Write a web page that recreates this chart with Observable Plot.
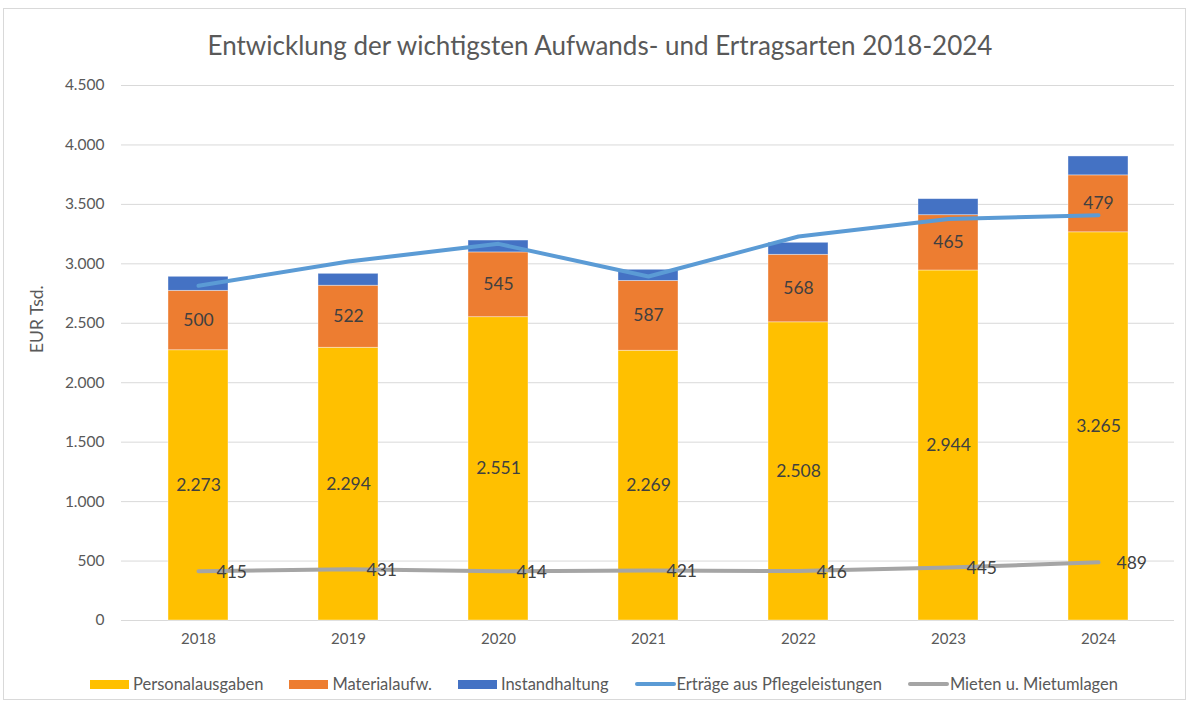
<!DOCTYPE html>
<html>
<head>
<meta charset="utf-8">
<script src="https://cdn.jsdelivr.net/npm/d3@7"></script>
<script src="https://cdn.jsdelivr.net/npm/@observablehq/plot@0.6"></script>
<style>
  html, body { margin: 0; padding: 0; background: #fff; }
  #wrap { position: relative; width: 1189px; height: 705px; font-family: Lato, "Open Sans", sans-serif; overflow: hidden; }
  #frame { position: absolute; left: 3px; top: 8px; width: 1183px; height: 692px; border: 1px solid #d9d9d9; box-sizing: border-box; }
  #title { position: absolute; left: 0; width: 1200px; top: 29px; text-align: center; font-size: 26px; line-height: 32px; color: #595959; }
  #chart { position: absolute; left: 0; top: 70px; }
  #legend { position: absolute; left: 0; width: 1208px; top: 675px; display: flex; justify-content: center; align-items: center; font-size: 16.5px; color: #595959; line-height: 18px; }
  .item { display: flex; align-items: center; margin: 0 13px; }
  .sw { width: 39px; height: 9px; margin-right: 4px; }
  .ln { width: 41px; height: 4px; border-radius: 2px; margin-right: 1px; }
</style>
</head>
<body>
<div id="wrap">
  <div id="frame"></div>
  <div id="title">Entwicklung der wichtigsten Aufwands- und Ertragsarten 2018-2024</div>
  <div id="chart"></div>
  <div id="legend"></div>
</div>
<script>
const years = ["2018", "2019", "2020", "2021", "2022", "2023", "2024"];
const personalausgaben = [2273, 2294, 2551, 2269, 2508, 2944, 3265];
const materialaufw = [500, 522, 545, 587, 568, 465, 479];
const instandhaltung = [118, 100, 100, 94, 101, 135, 159];
const ertraege = [2815, 3020, 3168, 2893, 3230, 3378, 3409];
const mieten = [415, 431, 414, 421, 416, 445, 489];
const yTicks = [0, 500, 1000, 1500, 2000, 2500, 3000, 3500, 4000, 4500];

const barSeries = ["Personalausgaben", "Materialaufw.", "Instandhaltung"];
const barColors = ["#FFC000", "#ED7D31", "#4472C4"];
const lineSeries = ["Erträge aus Pflegeleistungen", "Mieten u. Mietumlagen"];
const lineColors = ["#5B9BD5", "#A5A5A5"];

const fmt = d3.formatLocale({decimal: ",", thousands: ".", grouping: [3], currency: ["", " €"]}).format(",d");

const barValues = [personalausgaben, materialaufw, instandhaltung];
const barData = [];
years.forEach((year, i) => {
  barSeries.forEach((s, j) => barData.push({year, series: s, value: barValues[j][i]}));
});
const ertraegeData = years.map((year, i) => ({year, value: ertraege[i]}));
const mietenData = years.map((year, i) => ({year, value: mieten[i]}));

const chart = Plot.plot({
  width: 1189,
  height: 590,
  marginTop: 15,
  marginBottom: 40,
  marginLeft: 121,
  marginRight: 15,
  style: {fontFamily: "Lato, 'Open Sans', sans-serif", fontSize: "15px", color: "#595959", background: "transparent"},
  x: {domain: years, paddingInner: 0.6, paddingOuter: 0.3, label: null},
  y: {domain: [0, 4500], label: null},
  color: {domain: barSeries, range: barColors},
  marks: [
    Plot.gridY(yTicks, {stroke: "#d9d9d9", strokeOpacity: 1, strokeWidth: 1}),
    Plot.axisY(yTicks, {tickSize: 0, tickPadding: 17, tickFormat: fmt, fontSize: 15.5, label: null}),
    Plot.axisX({tickSize: 0, tickPadding: 13, fontSize: 15, label: null}),
    Plot.barY(barData, Plot.stackY({x: "year", y: "value", fill: "series", stroke: "white", strokeOpacity: 0.5, strokeWidth: 0.75})),
    Plot.text(barData, Plot.stackY({x: "year", y: "value", text: d => d.series === "Instandhaltung" ? null : fmt(d.value), fill: "#404040", fontSize: 17.5})),
    Plot.line(ertraegeData, {x: "year", y: "value", stroke: lineColors[0], strokeWidth: 4, strokeLinecap: "round", strokeLinejoin: "round"}),
    Plot.line(mietenData, {x: "year", y: "value", stroke: lineColors[1], strokeWidth: 4, strokeLinecap: "round", strokeLinejoin: "round"}),
    Plot.text(mietenData, {x: "year", y: "value", text: d => fmt(d.value), dx: 18, dy: 1, textAnchor: "start", fill: "#404040", fontSize: 17.5}),
    Plot.text(["EUR Tsd."], {frameAnchor: "left", dx: -84, rotate: -90, fill: "#595959", fontSize: 17.5})
  ]
});
document.getElementById("chart").appendChild(chart);

const legend = document.getElementById("legend");
barSeries.forEach((s, i) => {
  const it = document.createElement("div");
  it.className = "item";
  it.innerHTML = `<span class="sw" style="background:${barColors[i]}"></span><span>${s}</span>`;
  legend.appendChild(it);
});
lineSeries.forEach((s, i) => {
  const it = document.createElement("div");
  it.className = "item";
  it.innerHTML = `<span class="ln" style="background:${lineColors[i]}"></span><span>${s}</span>`;
  legend.appendChild(it);
});
</script>
</body>
</html>
